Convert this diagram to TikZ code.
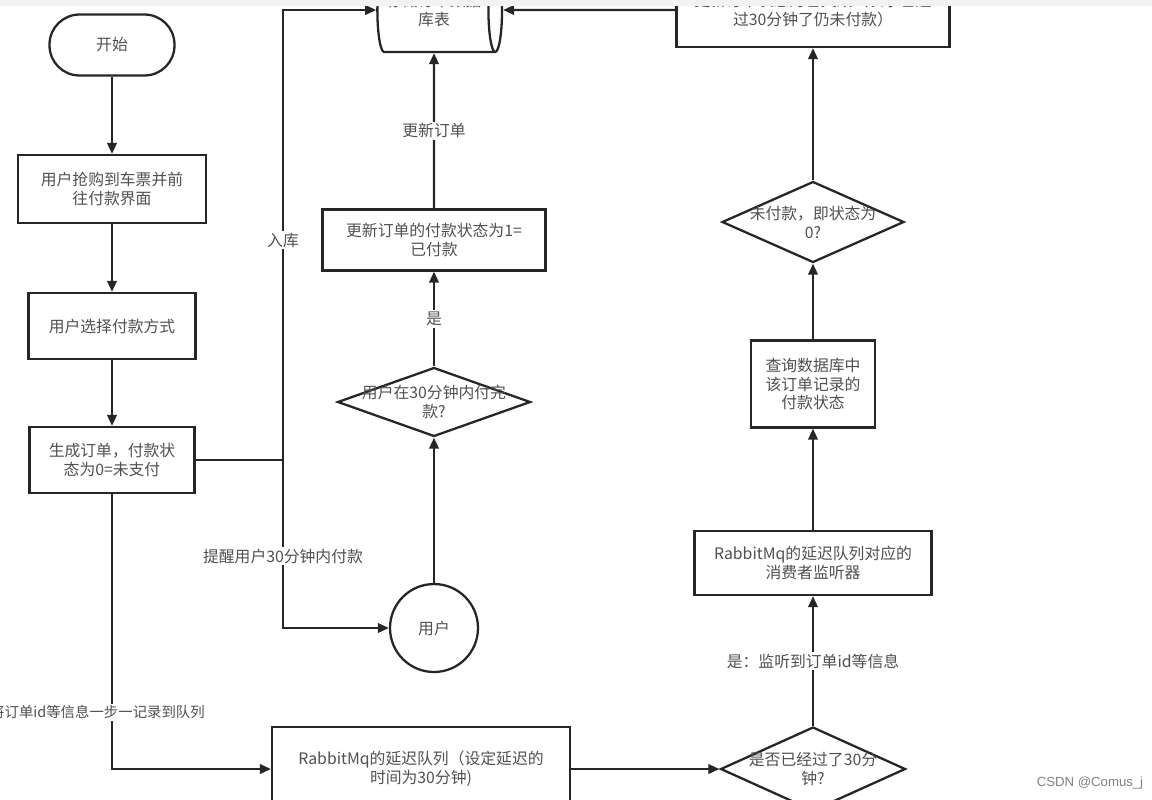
\documentclass[tikz,border=0pt]{standalone}
\usepackage{fontspec}
\setmainfont{Noto Sans CJK SC}
\newfontfamily\markfont{Liberation Sans}
\usetikzlibrary{arrows.meta, shapes.geometric}
\definecolor{linegray}{HTML}{262626}
\definecolor{textgray}{HTML}{505050}
\begin{document}
\begin{tikzpicture}[x = 0.02cm, y = -0.02cm,
	every node/.style = {font = \fontsize{9}{10.8}\selectfont, text = textgray, align = center},
	box/.style = {draw = linegray, line width = 1.3pt, fill = white, shape = rectangle},
	decision/.style = {draw = linegray, line width = 1.3pt, fill = white, shape = diamond, inner sep = 0pt},
	flow/.style = {draw = linegray, line width = 1.3pt, -{Triangle[length = 2.2mm, width = 1.9mm]}},
	tag/.style = {fill = white, inner sep = 1pt}]
	\useasboundingbox (0, 0) rectangle (1152, 799);
	\clip (0, 0) rectangle (1152, 799);
	% left column
	\node[box, rounded corners = 0.6cm, minimum width = 2.5cm, minimum height = 1.22cm] (start) at (112, 45) {开始};
	\node[box, minimum width = 3.76cm, minimum height = 1.36cm] (grab) at (112, 189) {用户抢购到车票并前\\往付款界面};
	\node[box, minimum width = 3.34cm, minimum height = 1.32cm] (choose) at (112, 326) {用户选择付款方式};
	\node[box, minimum width = 3.3cm, minimum height = 1.32cm] (order) at (112, 460) {生成订单，付款状\\态为0=未支付};
	% middle column
	\node[box, shape = cylinder, shape aspect = 0.3, minimum width = 1.68cm, minimum height = 2.48cm] (store) at (434, 10) {存储订单数据\\库表};
	\node[box, minimum width = 4.46cm, minimum height = 1.22cm] (update) at (434, 240) {更新订单的付款状态为1=\\已付款};
	\node[decision, minimum width = 3.86cm, minimum height = 1.38cm, label = {[align = center]center:用户在30分钟内付完\\款?}] (paid) at (434, 402) {};
	\node[box, shape = circle, minimum size = 1.76cm] (user) at (434, 628) {用户};
	\node[box, minimum width = 5.96cm, minimum height = 1.68cm] (queue) at (421, 769) {RabbitMq的延迟队列（设定延迟的\\时间为30分钟)};
	% right column
	\node[box, minimum width = 5.46cm, minimum height = 1.48cm] (invalid) at (813, 10) {更新订单状态为已失效（表示已超\\过30分钟了仍未付款）};
	\node[decision, minimum width = 3.64cm, minimum height = 1.62cm, label = {[align = center]center:未付款，即状态为\\0?}] (unpaid) at (813, 222) {};
	\node[box, minimum width = 2.48cm, minimum height = 1.74cm] (query) at (813, 384) {查询数据库中\\该订单记录的\\付款状态};
	\node[box, minimum width = 4.74cm, minimum height = 1.28cm] (listener) at (813, 563) {RabbitMq的延迟队列对应的\\消费者监听器};
	\node[decision, minimum width = 3.7cm, minimum height = 1.68cm, label = {[align = center]center:是否已经过了30分\\钟?}] (elapsed) at (813, 769) {};
	% connectors
	\draw[flow] (start) -- (grab);
	\draw[flow] (grab) -- (choose);
	\draw[flow] (choose) -- (order);
	\coordinate (split) at (283, 460);
	\draw[draw = linegray, line width = 1.3pt] (order.east) -- (split);
	\draw[flow] (split) |- node[tag, pos = 0.244] (stock) {入库} (store.west);
	\draw[flow] (split) |- node[tag, pos = 0.286] (remind) {提醒用户30分钟内付款} (user.west);
	\draw[flow] (user) -- (paid);
	\draw[flow] (paid) -- node[tag] (yes) {是} (update);
	\draw[flow] (update) -- node[tag] (renew) {更新订单} (store);
	\draw[flow] (order) |- node[tag, pos = 0.397, xshift = -0.29cm, font = \fontsize{8.2}{10}\selectfont] (enqueue) {将订单id等信息一步一记录到队列} (queue.west);
	\draw[flow] (queue) -- (elapsed);
	\draw[flow] (elapsed) -- node[tag] (heard) {是：监听到订单id等信息} (listener);
	\draw[flow] (listener) -- (query);
	\draw[flow] (query) -- (unpaid);
	\draw[flow] (unpaid) -- (invalid);
	\draw[flow] (invalid) -- (store);
	\node[text = gray, font = \fontsize{7.5}{9}\markfont] (mark) at (1090, 783) {CSDN @Comus\_j};
	\fill[gray!10] (0, 0) rectangle (1152, 6);
\end{tikzpicture}
\end{document}
